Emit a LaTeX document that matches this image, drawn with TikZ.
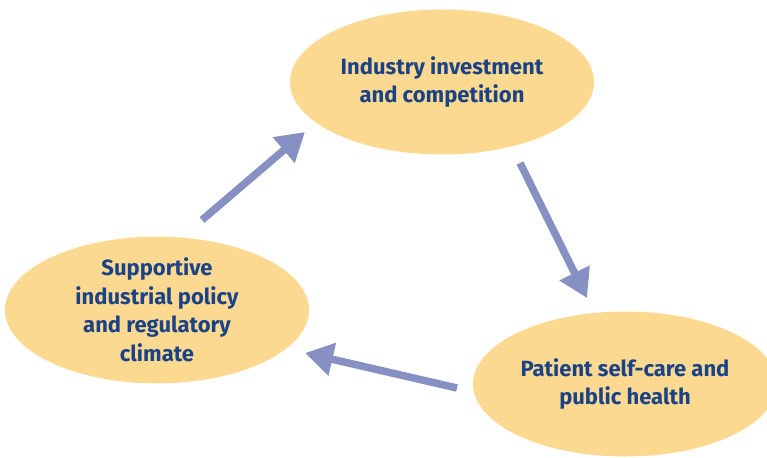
\documentclass[tikz,border=0pt]{standalone}
\usepackage{fontspec}
\setmainfont{Fira Sans}
\usetikzlibrary{shapes.geometric,arrows.meta}

\definecolor{bubblefill}{HTML}{FCD990}
\definecolor{arrowblue}{HTML}{8690C2}
\definecolor{textblue}{HTML}{1A4286}

\tikzset{
  bubble/.style={ellipse, fill=bubblefill, minimum width=304pt, minimum height=145pt,
    inner sep=0pt, align=center, text=textblue,
    font=\fontsize{22}{28.5}\selectfont\bfseries},
  flow/.style={arrowblue, line width=7.5pt, -{Triangle[length=28pt,width=32pt]}}
}

\begin{document}
\begin{tikzpicture}[x=1pt,y=-1pt]
\useasboundingbox (0,0) rectangle (767,457);

% the three stages of the cycle
\node[bubble] (invest) at (442,82) {Industry investment\\and competition};
\node[bubble] (policy) at (157,310) {Supportive\\industrial policy\\and regulatory\\climate};
\node[bubble] (health) at (625,384) {Patient self-care and\\public health};

% free ends of the arrows
\coordinate (a1) at (202,220); \coordinate (b1) at (305,132);
\coordinate (a2) at (520,163); \coordinate (b2) at (587,298);
\coordinate (a3) at (457,388); \coordinate (b3) at (305,353);

\draw[flow] (a1) -- (b1);
\draw[flow] (a2) -- (b2);
\draw[flow] (a3) -- (b3);
\end{tikzpicture}
\end{document}
